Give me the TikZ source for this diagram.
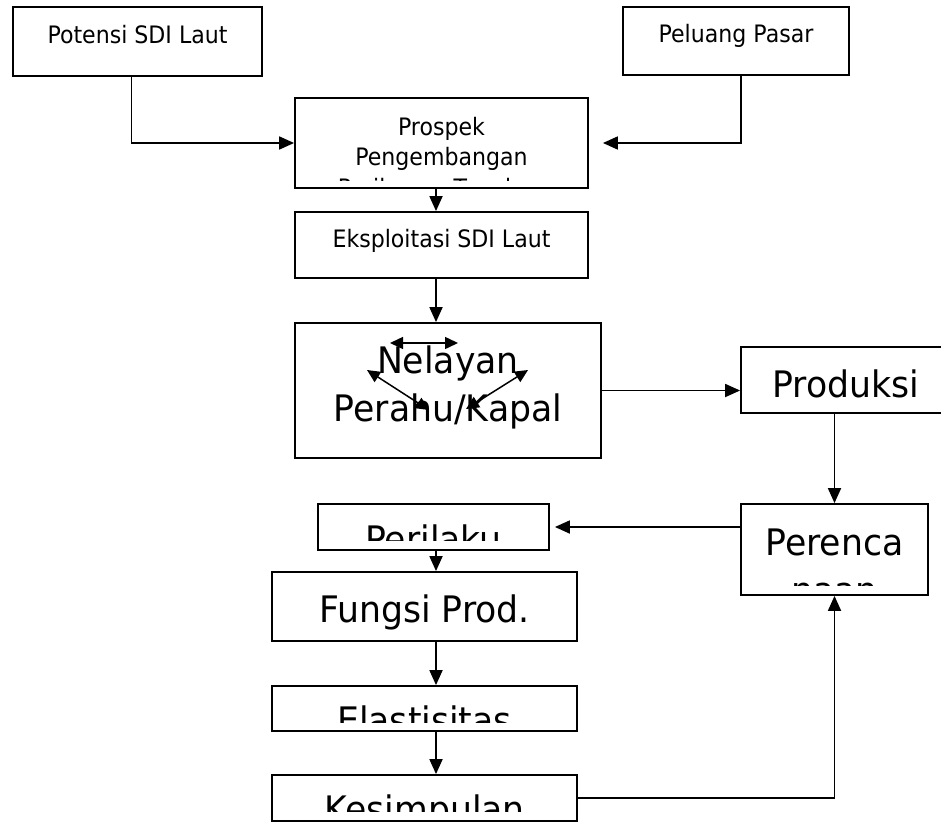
\documentclass[tikz,border=0pt]{standalone}
\usepackage{fontspec}
\usetikzlibrary{arrows.meta,calc}
\newfontfamily\smallfont{DejaVu Sans}[FakeStretch=0.92]
\newfontfamily\bigfont{DejaVu Sans}[FakeStretch=0.95]

\begin{document}
\begin{tikzpicture}[
  x=1pt,y=-1pt,
  box/.style={draw,line width=1.8pt,inner sep=0pt},
  smalltxt/.style={font=\smallfont\fontsize{24}{30}\selectfont,align=center,inner sep=0pt},
  bigtxt/.style={font=\bigfont\fontsize{36.5}{48}\selectfont,align=center,inner sep=0pt},
  arr/.style={line width=1.8pt,-{Triangle[length=15pt,width=13pt]}},
  twoarr/.style={line width=1.5pt,{Triangle[length=13pt,width=12pt]}-{Triangle[length=13pt,width=12pt]}},
]
\useasboundingbox (0,0) rectangle (941,821);
\clip (0,0) rectangle (941,821);

%% Boxes
\node[box,minimum width=249pt,minimum height=69pt] (potensi) at (137.5,41.5) {};
\node[box,minimum width=226pt,minimum height=68pt] (peluang) at (736,41) {};
\node[box,minimum width=293pt,minimum height=90pt] (prospek) at (441.5,143) {};
\node[box,minimum width=293pt,minimum height=66pt] (eksploitasi) at (441.5,245) {};
\node[box,minimum width=306pt,minimum height=135pt] (nelayan) at (448,390.5) {};
\node[box,minimum width=211pt,minimum height=66pt] (produksi) at (846.5,380) {};
\node[box,minimum width=231pt,minimum height=46pt] (perilaku) at (433.5,527) {};
\node[box,minimum width=187pt,minimum height=91pt] (perencanaan) at (834.5,549.5) {};
\node[box,minimum width=305pt,minimum height=69pt] (fungsi) at (424.5,606.5) {};
\node[box,minimum width=305pt,minimum height=45pt] (elastisitas) at (424.5,708.5) {};
\node[box,minimum width=305pt,minimum height=46pt] (kesimpulan) at (424.5,798) {};

%% Texts (base of a multi-line text is its last line)
\node[smalltxt,anchor=base] (potensi-t) at (137.5,44) {Potensi SDI Laut};
\node[smalltxt,anchor=base] (peluang-t) at (736,43) {Peluang Pasar};
\begin{scope}
  \clip ([yshift=8pt]prospek.south west) rectangle (prospek.north east);
  \node[smalltxt,anchor=base] (prospek-t) at (441.5,196) {Prospek\\Pengembangan\\Perikanan Tangkap};
\end{scope}
\node[smalltxt,anchor=base] (eksploitasi-t) at (441.5,247) {Eksploitasi SDI Laut};
\node[bigtxt,anchor=base] (nelayan-t) at (448,421) {Nelayan\\Perahu/Kapal};
\node[bigtxt,anchor=base] (produksi-t) at (846,397) {Produksi};
\begin{scope}
  \clip ([yshift=10pt]perilaku.south west) rectangle (perilaku.north east);
  \node[bigtxt,anchor=base] (perilaku-t) at (433.5,552.5) {Perilaku};
\end{scope}
\begin{scope}
  \clip ([yshift=10pt]perencanaan.south west) rectangle (perencanaan.north east);
  \node[bigtxt,anchor=base] (perencanaan-t) at (834.5,603) {Perenca\\naan};
\end{scope}
\node[bigtxt,anchor=base] (fungsi-t) at (424.5,622) {Fungsi Prod.};
\begin{scope}
  \clip ([yshift=9pt]elastisitas.south west) rectangle (elastisitas.north east);
  \node[bigtxt,anchor=base] (elastisitas-t) at (424.5,733.5) {Elastisitas};
\end{scope}
\begin{scope}
  \clip ([yshift=10pt]kesimpulan.south west) rectangle (kesimpulan.north east);
  \node[bigtxt,anchor=base] (kesimpulan-t) at (424.5,822) {Kesimpulan};
\end{scope}

%% Arrows inside Nelayan
\coordinate (nl-a) at (390,343);
\coordinate (nl-b) at (458,343);
\coordinate (nl-c) at (367,370);
\coordinate (nl-d) at (429,410);
\coordinate (nl-e) at (528,370);
\coordinate (nl-f) at (466,409);
\draw[twoarr] (nl-a) -- (nl-b);
\draw[twoarr] (nl-d) -- (nl-c);
\draw[twoarr] (nl-f) -- (nl-e);

%% Connectors
\coordinate (spine) at (436,0);
\coordinate (fb) at ([yshift=22.5pt]perencanaan.west);
\draw[arr] ([xshift=-6pt]potensi.south) |- (prospek.west);
\draw[arr] ([xshift=5pt]peluang.south) |- ([xshift=14pt]prospek.east);
\draw[arr] (prospek.south -| spine) -- (eksploitasi.north -| spine);
\draw[arr] (eksploitasi.south -| spine) -- (nelayan.north -| spine);
\draw[arr] (nelayan.east) -- (nelayan.east -| produksi.west);
\draw[arr] (produksi.south -| perencanaan.north) -- (perencanaan.north);
\draw[arr] (fb) -- ($(fb -| perilaku.east)+(5,0)$);
\draw[arr] (perilaku.south -| spine) -- (fungsi.north -| spine);
\draw[arr] (fungsi.south -| spine) -- (elastisitas.north -| spine);
\draw[arr] (elastisitas.south -| spine) -- (kesimpulan.north -| spine);
\draw[arr] (kesimpulan.east) -| (perencanaan.south);

\end{tikzpicture}
\end{document}
